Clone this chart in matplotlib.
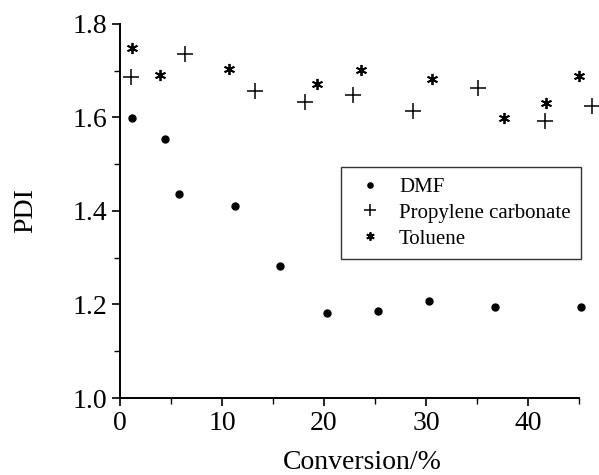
import matplotlib
matplotlib.use("Agg")
import matplotlib.pyplot as plt
from matplotlib.ticker import MultipleLocator, FormatStrFormatter

plt.rcParams['font.family'] = ['Liberation Serif', 'DejaVu Serif']

# PDI vs conversion for three solvents
dmf_conv = [1.2, 4.4, 5.8, 11.3, 15.7, 20.3, 25.3, 30.3, 36.8, 45.2]
dmf_pdi = [1.599, 1.554, 1.436, 1.411, 1.282, 1.182, 1.186, 1.207, 1.195, 1.195]

pc_conv = [1.1, 6.4, 13.2, 18.1, 22.8, 28.7, 35.1, 41.7, 46.3]
pc_pdi = [1.687, 1.736, 1.657, 1.633, 1.648, 1.614, 1.663, 1.593, 1.625]

tol_conv = [1.2, 3.9, 10.7, 19.3, 23.6, 30.6, 37.6, 41.8, 45.0]
tol_pdi = [1.749, 1.691, 1.704, 1.672, 1.702, 1.682, 1.599, 1.631, 1.689]

fig = plt.figure(figsize=(5.99, 4.75), dpi=100)
ax = fig.add_axes([0.2003, 0.1621, 0.7663, 0.7874])

ax.plot(dmf_conv, dmf_pdi, linestyle='none', marker='o', markersize=5,
        color='black', label='DMF', clip_on=False)
ax.plot(pc_conv, pc_pdi, linestyle='none', marker='+', markersize=11,
        markeredgewidth=1.1, color='black', label='Propylene carbonate', clip_on=False)
ax.plot(tol_conv, tol_pdi, linestyle='none', marker=(6, 2, 0), markersize=8,
        markeredgewidth=1.3, color='black', label='Toluene', clip_on=False)

ax.set_xlim(0, 45)
ax.set_ylim(1.0, 1.8)
ax.xaxis.set_major_locator(MultipleLocator(10))
ax.xaxis.set_minor_locator(MultipleLocator(5))
ax.yaxis.set_major_locator(MultipleLocator(0.2))
ax.yaxis.set_minor_locator(MultipleLocator(0.1))
ax.yaxis.set_major_formatter(FormatStrFormatter('%.1f'))

for side in ('top', 'right'):
    ax.spines[side].set_visible(False)
for side in ('left', 'bottom'):
    ax.spines[side].set_linewidth(1.4)

ax.tick_params(which='major', direction='out', length=6, width=1.2,
               labelsize=20, pad=3)
ax.tick_params(which='minor', direction='out', length=4, width=1.0)

ax.set_xlabel('Conversion/%', fontsize=20, va='bottom')
ax.xaxis.set_label_coords(0.527, -0.205)
ax.set_ylabel('PDI', fontsize=20, va='bottom')
ax.yaxis.set_label_coords(-0.178, 0.5)

leg = ax.legend(loc='upper left', bbox_to_anchor=(0.481, 0.618), fontsize=15,
                frameon=True, fancybox=False, edgecolor='black',
                handletextpad=0.5, borderpad=0.5, labelspacing=0.3,
                handlelength=1.8, borderaxespad=0, markerscale=0.75)
leg.get_frame().set_linewidth(1.0)

fig.savefig('out.png', dpi=100)
